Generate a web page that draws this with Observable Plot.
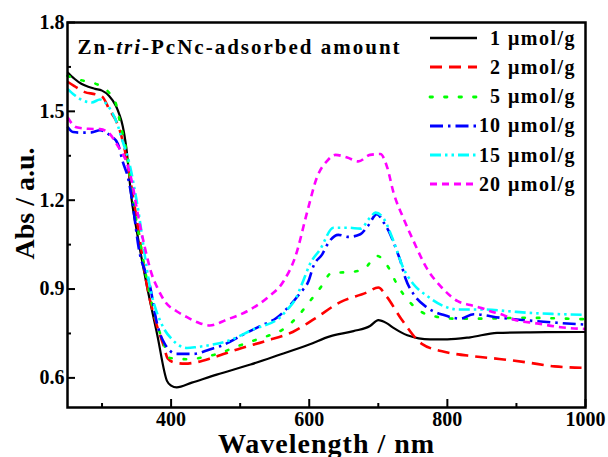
<!DOCTYPE html>
<html>
<head>
<meta charset="utf-8">
<script src="https://cdn.jsdelivr.net/npm/d3@7"></script>
<script src="https://cdn.jsdelivr.net/npm/@observablehq/plot@0.6"></script>
<style>
  html, body { margin: 0; padding: 0; background: #fff; }
  #wrap { position: relative; width: 608px; height: 457px; }
  #legend { position: absolute; left: 428px; top: 23.7px; font-family: "Liberation Serif", serif; font-weight: bold; font-size: 20px; letter-spacing: 1.5px; color: #000; }
  .row { display: flex; align-items: center; height: 29.2px; }
  .row svg { display: block; }
  .num { width: 23px; text-align: right; letter-spacing: 1px; }
  .unit { margin-left: 7px; }
</style>
</head>
<body>
<div id="wrap"></div>
<script>
// ---- data (wavelength nm, absorbance) ----
const s1 = [[250,1.632],[260,1.61],[270,1.593],[280,1.583],[290,1.576],[300,1.57],[310,1.553],[320,1.519],[325,1.49],[330,1.45],[335,1.38],[343,1.2],[350,1.10],[365,0.91],[380,0.745],[394,0.59],[400,0.574],[408,0.568],[430,0.584],[466,0.611],[515,0.645],[558,0.679],[600,0.713],[630,0.74],[664,0.758],[688,0.775],[700,0.795],[712,0.785],[722,0.769],[742,0.744],[775,0.73],[800,0.73],[833,0.737],[872,0.752],[920,0.754],[1000,0.755]];
const s2 = [[250,1.60],[260,1.585],[275,1.565],[290,1.558],[300,1.55],[312,1.50],[320,1.47],[330,1.40],[340,1.28],[350,1.14],[366,0.90],[379,0.78],[389,0.71],[395,0.666],[405,0.652],[420,0.648],[435,0.652],[460,0.668],[497,0.697],[536,0.724],[576,0.755],[608,0.80],[645,0.856],[682,0.887],[700,0.905],[712,0.875],[733,0.80],[763,0.715],[800,0.686],[838,0.673],[875,0.664],[913,0.653],[955,0.639],[1000,0.634]];
const s5 = [[250,1.62],[268,1.606],[290,1.594],[309,1.566],[321,1.519],[326,1.463],[336,1.357],[345,1.2],[355,1.06],[365,0.93],[380,0.78],[389,0.718],[398,0.667],[425,0.663],[447,0.67],[471,0.684],[493,0.704],[517,0.724],[539,0.741],[563,0.765],[585,0.812],[599,0.853],[616,0.904],[633,0.955],[657,0.957],[679,0.967],[698,1.012],[715,0.972],[727,0.916],[742,0.865],[763,0.822],[785,0.806],[809,0.80],[850,0.80],[913,0.803],[973,0.80],[1000,0.798]];
const s10 = [[250,1.448],[258,1.43],[270,1.428],[285,1.429],[297,1.436],[312,1.418],[323,1.39],[330,1.33],[338,1.272],[343,1.209],[353,1.04],[370,0.904],[379,0.79],[391,0.714],[408,0.681],[432,0.681],[457,0.697],[471,0.707],[505,0.747],[529,0.775],[553,0.803],[568,0.835],[587,0.887],[599,0.927],[606,0.977],[619,1.018],[628,1.057],[642,1.083],[657,1.076],[674,1.085],[685,1.113],[698,1.153],[708,1.124],[717,1.086],[725,1.04],[732,0.995],[739,0.938],[751,0.883],[771,0.837],[795,0.812],[819,0.80],[838,0.815],[877,0.803],[916,0.794],[959,0.786],[1000,0.78]];
const s15 = [[250,1.576],[260,1.555],[273,1.536],[285,1.53],[297,1.54],[308,1.52],[323,1.451],[328,1.412],[340,1.32],[350,1.2],[370,0.9],[389,0.769],[401,0.731],[423,0.701],[437,0.704],[461,0.713],[481,0.724],[519,0.764],[558,0.805],[568,0.83],[580,0.866],[590,0.92],[601,0.984],[616,1.035],[635,1.107],[657,1.107],[674,1.104],[688,1.141],[696,1.158],[708,1.137],[722,1.062],[736,0.972],[751,0.916],[771,0.876],[795,0.842],[815,0.831],[853,0.831],[889,0.825],[916,0.82],[952,0.816],[1000,0.813]];
const s20 = [[250,1.48],[263,1.446],[280,1.441],[297,1.44],[309,1.429],[321,1.39],[338,1.31],[343,1.265],[352,1.15],[362,1.04],[372,0.95],[381,0.9],[392,0.855],[408,0.825],[423,0.805],[440,0.786],[456,0.777],[481,0.797],[510,0.825],[539,0.87],[563,0.927],[580,1.01],[597,1.16],[611,1.276],[626,1.333],[638,1.353],[655,1.344],[671,1.331],[688,1.353],[703,1.356],[713,1.31],[722,1.226],[736,1.141],[751,1.062],[771,0.967],[790,0.91],[815,0.859],[833,0.846],[848,0.837],[862,0.825],[879,0.814],[896,0.797],[930,0.784],[964,0.771],[1000,0.765]];

const seriesNames = ["1", "2", "5", "10", "15", "20"];
const seriesData = [s1, s2, s5, s10, s15, s20];
const seriesColors = ["#000000", "#ff0000", "#00ff00", "#0000ff", "#00ffff", "#ff00ff"];
const seriesDash = [null, "12,7", "2.5,12", "13,5,2.5,5", "11,4,2.5,4,2.5,4", "7,5"];

const xMajor = [400, 600, 800, 1000];
const xMinor = [300, 500, 700, 900];
const yMajor = [0.6, 0.9, 1.2, 1.5, 1.8];
const yMinor = [0.75, 1.05, 1.35, 1.65];

const titleText = "Zn-tri-PcNc-adsorbed amount";
const xLabel = "Wavelength / nm";
const yLabel = "Abs / a.u.";
const unitText = "\u03BCmol/g";

const lineMarks = seriesData.map((s, i) => Plot.line(s, {
  x: d => d[0], y: d => d[1],
  stroke: seriesColors[i],
  strokeWidth: i === 0 ? 2.2 : 2.6,
  strokeDasharray: seriesDash[i],
  strokeLinecap: i === 2 ? "round" : "butt",
  curve: "monotone-x"
}));

const chart = Plot.plot({
  width: 608, height: 457,
  marginLeft: 67, marginRight: 23, marginTop: 22, marginBottom: 50,
  style: { fontFamily: "'Liberation Serif', serif", fontWeight: "bold", fontSize: "20px", color: "#000", background: "#fff" },
  x: { domain: [250, 1000], label: null },
  y: { domain: [0.5, 1.8], label: null },
  marks: [
    ...lineMarks,
    Plot.axisX(xMajor, { tickSize: -8, tickPadding: 12, strokeWidth: 2, label: null, tickFormat: d => String(d) }),
    Plot.axisX(xMinor, { tickSize: -4, strokeWidth: 2, label: null, tickFormat: () => "" }),
    Plot.axisY(yMajor, { tickSize: -8, tickPadding: 11, strokeWidth: 2, label: null, tickFormat: d3.format(".1f") }),
    Plot.axisY(yMinor, { tickSize: -4, strokeWidth: 2, label: null, tickFormat: () => "" }),
    Plot.frame({ stroke: "#000", strokeWidth: 2.5 }),
    Plot.text([titleText], { text: d => d, frameAnchor: "top-left", textAnchor: "start", lineAnchor: "bottom", dx: 10, dy: 31, fontSize: 21, className: "ttl" }),
    Plot.text([xLabel], { text: d => d, frameAnchor: "bottom", textAnchor: "middle", lineAnchor: "bottom", dy: 45, fontSize: 28, className: "xlab" }),
    Plot.text([yLabel], { text: d => d, frameAnchor: "left", textAnchor: "middle", lineAnchor: "bottom", rotate: -90, dx: -34, dy: -11.5, fontSize: 28 })
  ]
});

const wrap = document.getElementById("wrap");
wrap.appendChild(chart);

// title: italic "tri"
const tt = chart.querySelector("g.ttl text");
if (tt) {
  tt.textContent = "";
  const parts = [["Zn-", "normal"], ["tri", "italic"], ["-PcNc-adsorbed amount", "normal"]];
  for (const [s, st] of parts) {
    const ts = document.createElementNS("http://www.w3.org/2000/svg", "tspan");
    ts.setAttribute("font-style", st);
    ts.textContent = s;
    tt.appendChild(ts);
  }
  tt.setAttribute("letter-spacing", "2");
}
const xl = chart.querySelector("g.xlab text");
if (xl) xl.setAttribute("letter-spacing", "1");

// legend overlay
const leg = document.createElement("div");
leg.id = "legend";
seriesNames.forEach((name, i) => {
  const row = document.createElement("div");
  row.className = "row";
  const dash = seriesDash[i] ? ` stroke-dasharray="${seriesDash[i]}"` : "";
  const cap = i === 2 ? "round" : "butt";
  row.innerHTML = `<svg width="50" height="10"><line x1="2" y1="5" x2="49" y2="5" stroke="${seriesColors[i]}" stroke-width="${i === 0 ? 2.4 : 2.8}" stroke-linecap="${cap}"${dash}/></svg><span class="num">${name}</span><span class="unit">${unitText}</span>`;
  leg.appendChild(row);
});
wrap.appendChild(leg);
</script>
</body>
</html>
